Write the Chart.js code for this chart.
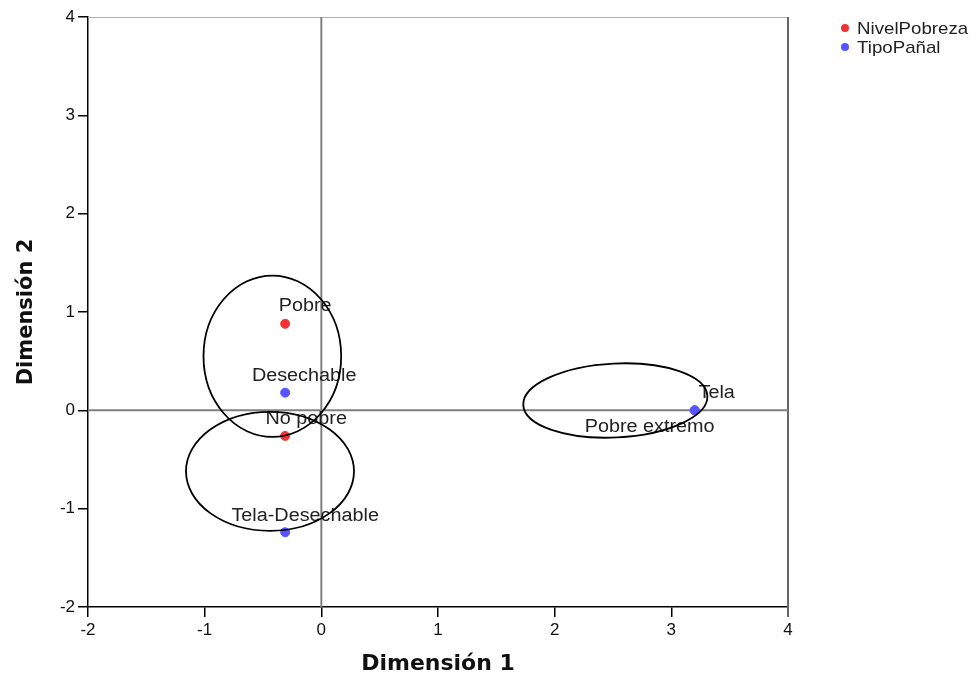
<!DOCTYPE html>
<html>
<head>
<meta charset="utf-8">
<script src="https://cdn.jsdelivr.net/npm/chart.js@4"></script>
<style>
  body { margin: 0; background: #fff; }
</style>
</head>
<body>
<canvas id="myChart" width="979" height="677"></canvas>
<script>
// NivelPobreza categories
const pobrezaLabels = ['Pobre', 'No pobre', 'Pobre extremo'];
const pobrezaDim1 = [-0.31, -0.31, 3.2];
const pobrezaDim2 = [0.88, -0.26, 0.0];

// TipoPañal categories
const panalLabels = ['Desechable', 'Tela-Desechable', 'Tela'];
const panalDim1 = [-0.31, -0.31, 3.2];
const panalDim2 = [0.18, -1.24, 0.0];

const axisTicks = [-2, -1, 0, 1, 2, 3, 4];

// hand drawn circles around groups (data units)
const groupCx = [-0.42, -0.44, 2.52];
const groupCy = [0.55, -0.62, 0.1];
const groupRx = [0.59, 0.72, 0.79];
const groupRy = [0.82, 0.605, 0.376];

const red = '#f03434';
const blue = '#5555ff';
const font = 'Liberation Sans, Arial, sans-serif';

const toPoints = (xs, ys) => xs.map((x, i) => ({ x, y: ys[i] }));

// label offsets in px, per point
const labelOffsets = {
    NivelPobreza: [[20, -18], [21, -17], [-45, 17]],
    'TipoPañal': [[19, -17], [20, -16], [22, -17]]
};

// text in the original is a bit wide, stretch it a little
function wideText(ctx, text, x, y) {
    ctx.save();
    ctx.translate(x, y);
    ctx.scale(1.1, 1);
    ctx.fillText(text, 0, 0);
    ctx.restore();
}

const overlay = {
    id: 'overlay',
    beforeDatasetsDraw(chart) {
        const { ctx, chartArea: a, scales: { x, y } } = chart;
        ctx.save();
        // top and right frame
        ctx.strokeStyle = '#b0b0b0';
        ctx.lineWidth = 1;
        ctx.beginPath();
        ctx.moveTo(a.left, a.top + 0.5);
        ctx.lineTo(a.right, a.top + 0.5);
        ctx.stroke();
        ctx.strokeStyle = '#666';
        ctx.lineWidth = 2;
        ctx.beginPath();
        ctx.moveTo(a.right, a.top);
        ctx.lineTo(a.right, a.bottom + 10);
        ctx.stroke();
        // reference lines at 0
        ctx.strokeStyle = '#808080';
        ctx.lineWidth = 2;
        ctx.beginPath();
        ctx.moveTo(x.getPixelForValue(0), a.top);
        ctx.lineTo(x.getPixelForValue(0), a.bottom);
        ctx.moveTo(a.left, y.getPixelForValue(0));
        ctx.lineTo(a.right, y.getPixelForValue(0));
        ctx.stroke();
        ctx.restore();
    },
    afterDatasetsDraw(chart) {
        const { ctx, scales: { x, y } } = chart;
        ctx.save();
        // labels
        ctx.font = '18px ' + font;
        ctx.fillStyle = '#222';
        ctx.textAlign = 'center';
        ctx.textBaseline = 'middle';
        chart.data.datasets.forEach((ds) => {
            ds.data.forEach((p, i) => {
                const off = labelOffsets[ds.label][i];
                wideText(ctx, ds.names[i], x.getPixelForValue(p.x) + off[0], y.getPixelForValue(p.y) + off[1]);
            });
        });
        // ellipses
        ctx.strokeStyle = '#000';
        ctx.lineWidth = 1.8;
        groupCx.forEach((cx, i) => {
            const px = x.getPixelForValue(cx);
            const py = y.getPixelForValue(groupCy[i]);
            const rx = x.getPixelForValue(cx + groupRx[i]) - px;
            const ry = py - y.getPixelForValue(groupCy[i] + groupRy[i]);
            ctx.beginPath();
            ctx.ellipse(px, py, rx, ry, i === 2 ? -0.05 : 0, 0, Math.PI * 2);
            ctx.stroke();
        });
        // legend
        ctx.font = '17px ' + font;
        ctx.textAlign = 'left';
        chart.data.datasets.forEach((ds, i) => {
            const ly = 28 + i * 19;
            ctx.fillStyle = ds.backgroundColor;
            ctx.beginPath();
            ctx.arc(845, ly, 4, 0, Math.PI * 2);
            ctx.fill();
            ctx.fillStyle = '#222';
            wideText(ctx, ds.label, 857, ly + 1);
        });
        ctx.restore();
    }
};

const tickOpts = {
    color: '#111',
    font: { family: font, size: 17 },
    stepSize: 1
};

new Chart(document.querySelector('#myChart'), {
    type: 'scatter',
    data: {
        datasets: [
            {
                label: 'NivelPobreza',
                names: pobrezaLabels,
                data: toPoints(pobrezaDim1, pobrezaDim2),
                backgroundColor: red,
                borderColor: red,
                pointRadius: 4.5,
                order: 1
            },
            {
                label: 'TipoPañal',
                names: panalLabels,
                data: toPoints(panalDim1, panalDim2),
                backgroundColor: blue,
                borderColor: blue,
                pointRadius: 4.5,
                order: 0
            }
        ]
    },
    options: {
        responsive: false,
        animation: false,
        layout: { padding: { top: 17, right: 191, left: 0, bottom: 0 } },
        plugins: {
            legend: { display: false },
            tooltip: { enabled: false }
        },
        scales: {
            x: {
                min: -2,
                max: 4,
                afterBuildTicks: (s) => { s.ticks = axisTicks.map(v => ({ value: v })); },
                afterFit: (s) => { s.height = 70; },
                ticks: { ...tickOpts, padding: 3 },
                grid: { drawOnChartArea: false, tickLength: 10, color: '#000', lineWidth: 1.5 },
                border: { color: '#000', width: 1.5 },
                title: {
                    display: true,
                    text: 'Dimensión 1',
                    color: '#111',
                    font: { family: 'DejaVu Sans', size: 22, weight: 'bold' },
                    padding: 0
                }
            },
            y: {
                min: -2,
                max: 4,
                afterBuildTicks: (s) => { s.ticks = axisTicks.map(v => ({ value: v })); },
                afterFit: (s) => { s.width = 88; },
                ticks: { ...tickOpts, padding: 3 },
                grid: { drawOnChartArea: false, tickLength: 10, color: '#000', lineWidth: 1.5 },
                border: { color: '#000', width: 1.5 },
                title: {
                    display: true,
                    text: 'Dimensión 2',
                    color: '#111',
                    font: { family: 'DejaVu Sans', size: 21, weight: 'bold' },
                    padding: { top: 14, bottom: 0 }
                }
            }
        }
    },
    plugins: [overlay]
});
</script>
</body>
</html>
